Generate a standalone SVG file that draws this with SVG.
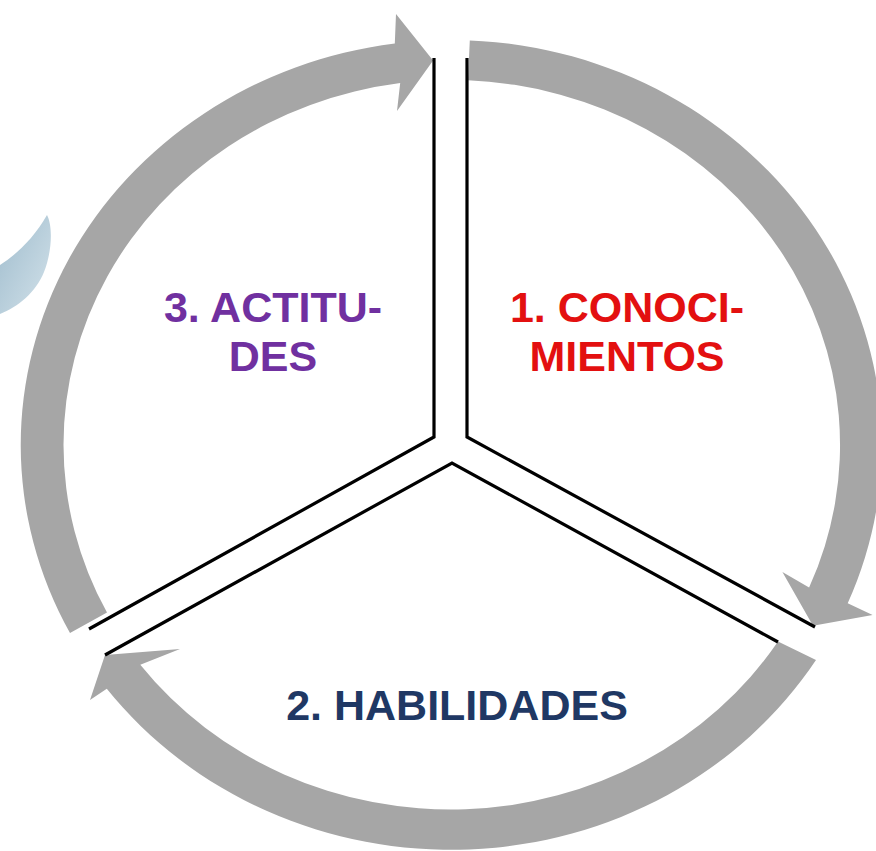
<svg xmlns="http://www.w3.org/2000/svg" width="876" height="851" viewBox="0 0 876 851">
<defs>
<style>
.arrow{fill:#a6a6a6;stroke:none}
.div{fill:none;stroke:#000;stroke-width:3.2;stroke-linejoin:miter}
.lbl{font-family:"Liberation Sans",Arial,sans-serif;font-weight:bold;font-size:43px;text-anchor:middle}
</style>
<linearGradient id="blue" x1="0" y1="0" x2="1" y2="1">
<stop offset="0" stop-color="#9fbccd"/>
<stop offset="1" stop-color="#d3e2ea"/>
</linearGradient>
</defs>
<rect width="876" height="851" fill="#fff"/>
<path d="M47,215 C53,226 52,252 44,272 C36,292 18,307 0,314 L0,265 C16,255 34,238 47,215 Z" fill="url(#blue)"/>
<g id="connectors">
<path class="arrow" d="M469.8,40.4 A431,405 0 0 1 847.7,603.2 L872.6,615 L813,625.8 L782.4,572 L809.1,587.6 A389,365 0 0 0 468,80.3 Z"/>
<path class="arrow" d="M816,660 A431,405 0 0 1 106.8,688.7 L90,700 L105,655 L180,649 L140.3,664.7 A389,365 0 0 0 778,641.5 Z"/>
<path class="arrow" d="M70,633 A431,405 0 0 1 394.8,43.5 L396,14 L433.1,60.4 L397,111 L400.2,83.1 A389,365 0 0 0 107,612.5 Z"/>
</g>
<g id="dividers">
<path class="div" d="M434,58 V437 L89,629"/>
<path class="div" d="M467,58 V437 L815,627"/>
<path class="div" d="M105,655 L452,463 L778,642"/>
</g>
<g id="node-conocimientos">
<text class="lbl" x="627" y="322" fill="#e31010" font-size="45">1. CONOCI-</text>
<text class="lbl" x="627" y="371" fill="#e31010" font-size="45">MIENTOS</text>
</g>
<g id="node-habilidades">
<text class="lbl" x="457" y="720" fill="#1f3864">2. HABILIDADES</text>
</g>
<g id="node-actitudes">
<text class="lbl" x="273" y="322" fill="#7030a0">3. ACTITU-</text>
<text class="lbl" x="273" y="371" fill="#7030a0">DES</text>
</g>
</svg>
